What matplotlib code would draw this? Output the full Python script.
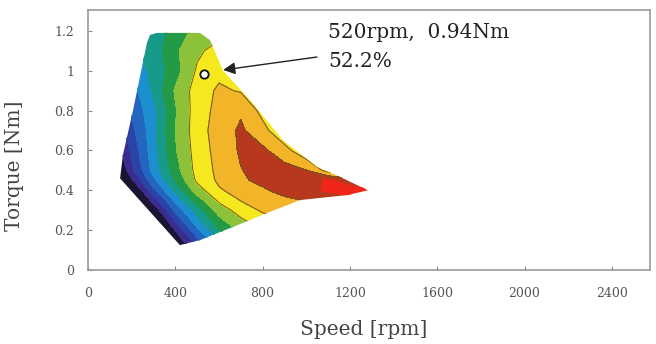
import matplotlib
matplotlib.use('Agg')
import matplotlib.pyplot as plt
import numpy as np
from matplotlib.patches import Polygon

# ---------------- data ----------------
speed_rpm = [100, 200, 300, 400, 500, 600, 700, 800, 900, 1000, 1100, 1200, 1300]
torque_nm = [0.1, 0.2, 0.3, 0.35, 0.4, 0.45, 0.5, 0.6, 0.7, 0.8, 0.9, 1.0, 1.1, 1.2]

# efficiency [%] estimated at each (torque row, speed column)
eff_t010 = [0, 0, 0, 7, 18, 30, 38, 43, 46, 48, 50, 50, 50]
eff_t020 = [0, 0, 0, 15, 28.6, 39.5, 46, 50, 52, 53, 53, 53, 53]
eff_t030 = [0, 0, 10.5, 26.2, 37.1, 47.1, 52.3, 55.7, 57.5, 58, 58, 58, 58]
eff_t035 = [0, 2, 17, 31.1, 42.2, 51, 55.2, 57, 58.9, 60.3, 62, 63.5, 63]
eff_t040 = [0, 7, 23.5, 36.1, 47.5, 54.4, 57, 59.3, 61.6, 63.9, 65.5, 66.5, 66]
eff_t045 = [0, 14, 28.5, 40.2, 51, 55.9, 59.3, 61.1, 62.5, 63.9, 65.3, 63, 55]
eff_t050 = [2, 18.5, 31.7, 42.8, 51.75, 56.25, 59.8, 61.5, 62, 60.1, 53, 50, 47]
eff_t060 = [8, 21, 32.9, 44.4, 52.25, 56.8, 60.6, 61, 56.8, 51, 48, 46, 45]
eff_t070 = [12, 23.4, 33.1, 45, 52.75, 57.3, 60.8, 56.6, 51, 48, 46, 45, 45]
eff_t080 = [15, 25.6, 33.5, 44.4, 52.6, 56.5, 59.3, 53.5, 49, 46, 45, 45, 45]
eff_t090 = [18, 27.5, 35.8, 45.5, 52.4, 55.8, 54.6, 50, 47, 46, 45, 45, 45]
eff_t100 = [22, 31.5, 36.4, 42.8, 50.7, 53.7, 52, 49, 47, 46, 45, 45, 45]
eff_t110 = [24, 33.5, 37, 44.1, 49, 52, 50, 49, 47, 46, 45, 45, 45]
eff_t120 = [26, 34.5, 37, 42, 46.5, 48, 48, 48, 47, 46, 45, 45, 45]

# operating region boundary
boundary_speed = [147, 160, 206, 270, 284, 316, 513, 559, 619, 742, 893, 1049,
                  1155, 1283, 1187, 971, 820, 664, 513, 421]
boundary_torque = [0.46, 0.577, 0.80, 1.14, 1.18, 1.19, 1.19, 1.154, 1.0, 0.853,
                   0.652, 0.517, 0.467, 0.40, 0.376, 0.351, 0.286, 0.216, 0.15, 0.125]

levels = [0, 15, 20, 25, 30, 35, 40, 45, 50, 55, 60, 65, 80]
band_colors = ['#1c1430', '#3b2d8f', '#2b42a6', '#2266c0', '#1d8fd0', '#179a8a',
               '#239a45', '#8cc23a', '#f6e81e', '#f2b52a', '#b8381e', '#f0261a']
line_levels = [50, 55, 60]

point_speed, point_torque = 530, 0.985
arrow_tip = (619, 1.004)
arrow_tail = (1049, 1.069)
label_line1 = '520rpm,  0.94Nm'
label_line2 = '52.2%'

xticks = [0, 400, 800, 1200, 1600, 2000, 2400]
yticks = [0, 0.2, 0.4, 0.6, 0.8, 1.0, 1.2]
ytick_labels = ['0', '0.2', '0.4', '0.6', '0.8', '1', '1.2']

# ---------------- plot ----------------
eff = np.array([eff_t010, eff_t020, eff_t030, eff_t035, eff_t040, eff_t045, eff_t050,
                eff_t060, eff_t070, eff_t080, eff_t090, eff_t100, eff_t110, eff_t120])

fig = plt.figure(figsize=(6.56, 3.44), dpi=100)
ax = fig.add_axes([88 / 656, 1 - 270 / 344, 562 / 656, 260 / 344])

cs = ax.contourf(speed_rpm, torque_nm, eff, levels=levels, colors=band_colors)
cs.set_edgecolor('face')
cs.set_linewidth(0.4)
poly = Polygon(np.column_stack([boundary_speed, boundary_torque]), closed=True,
               transform=ax.transData, facecolor='none', edgecolor='none')
ax.add_patch(poly)
cs.set_clip_path(poly)

cl = ax.contour(speed_rpm, torque_nm, eff, levels=line_levels, colors='#6b5a1e',
                linewidths=0.7)
cl.set_clip_path(poly)

ax.plot(point_speed, point_torque, 'o', ms=6, mfc='white', mec='#111', mew=1.3, zorder=5)
ax.annotate('', xy=arrow_tip, xytext=arrow_tail,
            arrowprops=dict(arrowstyle='-|>', color='#222', lw=1.0,
                            mutation_scale=18, shrinkA=0, shrinkB=0))
ax.text(1100, 1.19, label_line1, fontsize=14.5, family='DejaVu Serif',
        va='center', ha='left', color='#222')
ax.text(1100, 1.045, label_line2, fontsize=14.5, family='DejaVu Serif',
        va='center', ha='left', color='#222')

ax.set_xlim(0, 2575)
ax.set_ylim(0, 1.305)
ax.set_xticks(xticks)
ax.set_xticklabels([str(v) for v in xticks])
ax.set_yticks(yticks)
ax.set_yticklabels(ytick_labels)
ax.tick_params(direction='in', length=3, color='#888', labelsize=9,
               labelcolor='#555')
ax.tick_params(axis='x', pad=12)
ax.tick_params(axis='y', pad=10)
for lab in ax.get_xticklabels() + ax.get_yticklabels():
    lab.set_family('DejaVu Serif')
for sp in ax.spines.values():
    sp.set_color('#999')
    sp.set_linewidth(1.2)

ax.set_xlabel('Speed [rpm]', fontsize=14.5, family='DejaVu Serif', color='#444')
ax.set_ylabel('Torque [Nm]', fontsize=14.5, family='DejaVu Serif', color='#444')
ax.xaxis.set_label_coords(0.49, -0.23)
ax.yaxis.set_label_coords(-0.13, 0.40)
ax.xaxis.label.set_va('center')
ax.yaxis.label.set_va('center')

fig.savefig('out.png', dpi=100)
